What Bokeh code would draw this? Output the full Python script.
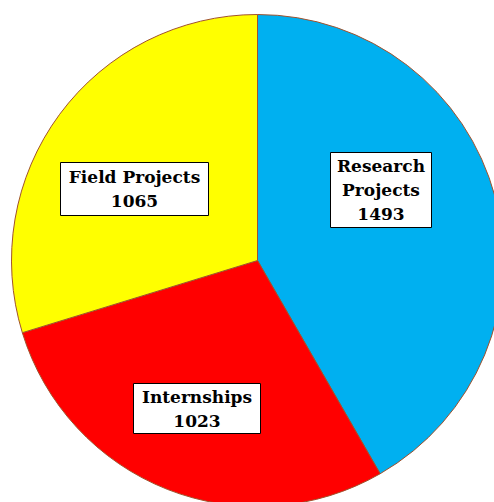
import math
from bokeh.plotting import figure
from bokeh.models import Range1d, ColumnDataSource
from bokeh.core.properties import value
from bokeh.embed import file_html
from bokeh.resources import INLINE

# data
categories = ["Research Projects", "Internships", "Field Projects"]
values = [1493, 1023, 1065]
colors = ["#00B0F0", "#FF0000", "#FFFF00"]
label_lines = ["Research\nProjects", "Internships", "Field Projects"]

# layout (screen-like coordinates, y measured up from page bottom)
W, H = 494, 502
cx, cy, r = 257, H - 260, 246
box_x = [380.5, 196.5, 134]
box_y = [H - 189.5, H - 408, H - 188.5]
box_w = [101, 127, 148]
box_h = [75, 50, 53]

total = sum(values)
starts, ends = [], []
a = math.pi / 2
for v in values:
    span = 2 * math.pi * v / total
    ends.append(a)
    starts.append(a - span)
    a -= span

src = ColumnDataSource(dict(cat=categories, val=values, color=colors,
                            start=starts, end=ends))

p = figure(width=W, height=H, output_backend="svg", toolbar_location=None,
           x_range=Range1d(0, W), y_range=Range1d(0, H),
           min_border=0)
p.axis.visible = False
p.grid.visible = False
p.outline_line_color = None
p.background_fill_color = "white"

p.wedge(x=cx, y=cy, radius=r, start_angle="start", end_angle="end",
        fill_color="color", line_color="#A0522D", line_width=1, source=src)

texts = [f"{l}\n{v}" for l, v in zip(label_lines, values)]
lsrc = ColumnDataSource(dict(x=box_x, y=box_y, w=box_w, h=box_h, t=texts))
p.rect(x="x", y="y", width="w", height="h", fill_color="white",
       line_color="black", line_width=1, source=lsrc)
p.text(x="x", y="y", text="t", text_align="center", text_baseline="middle",
       text_font=value("DejaVu Serif"), text_font_style="bold",
       text_font_size="17px", text_line_height=1.2, text_color="black",
       source=lsrc)

open("out.html", "w").write(file_html(p, INLINE))
